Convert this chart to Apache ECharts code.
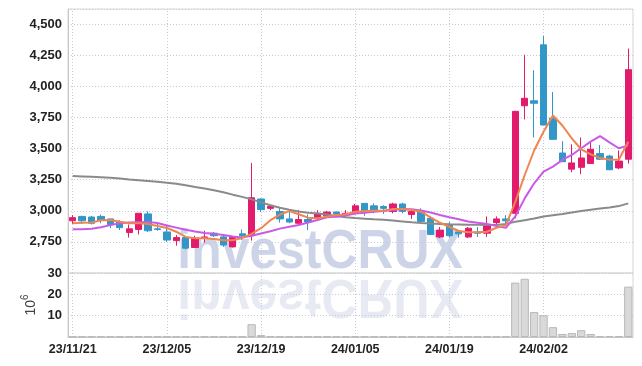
<!DOCTYPE html>
<html>
<head>
<meta charset="utf-8">
<script src="https://cdn.jsdelivr.net/npm/echarts@6/dist/echarts.min.js"></script>
<style>
html,body{margin:0;padding:0;background:#fff;}
#chart{width:642px;height:366px;}
</style>
</head>
<body>
<div id="chart"></div>
<script>
const dates = ['23/11/21','23/11/22','23/11/23','23/11/24','23/11/27','23/11/28','23/11/29','23/11/30','23/12/01','23/12/04',
'23/12/05','23/12/06','23/12/07','23/12/08','23/12/11','23/12/12','23/12/13','23/12/14','23/12/15','23/12/18',
'23/12/19','23/12/20','23/12/21','23/12/22','23/12/26','23/12/27','23/12/28','24/01/02','24/01/03','24/01/04',
'24/01/05','24/01/08','24/01/09','24/01/10','24/01/11','24/01/12','24/01/15','24/01/16','24/01/17','24/01/18',
'24/01/19','24/01/22','24/01/23','24/01/24','24/01/25','24/01/26','24/01/29','24/01/30','24/01/31','24/02/01',
'24/02/02','24/02/05','24/02/06','24/02/07','24/02/08','24/02/13','24/02/14','24/02/15','24/02/16','24/02/19'];

const tickLabels = ['23/11/21','23/12/05','23/12/19','24/01/05','24/01/19','24/02/02'];

const openV  = [2920,2955,2950,2955,2935,2910,2825,2850,2975,2855, 2830,2760,2785,2705,2785,2820,2790,2710,2815,2800,
                3095,3020,2995,2935,2900,2930,2940,2960,2990,2970, 2980,3060,3040,3035,2995,3055,2970,2995,2940,2790,
                2885,2830,2790,2830,2820,2905,2935,2980,3845,3885, 4335,3745,3465,3335,3350,3380,3460,3440,3345,3415];
const closeV = [2945,2920,2900,2925,2890,2865,2855,2980,2840,2850, 2765,2785,2700,2780,2790,2800,2725,2785,2800,3105,
                3010,3035,2935,2910,2930,2910,2980,2990,2975,2980, 3040,2990,3000,3020,3055,2995,2995,2915,2810,2845,
                2800,2815,2860,2820,2880,2935,2920,3800,3905,3865, 3690,3575,3395,3385,3425,3495,3415,3330,3400,4135];
const lowV   = [2895,2895,2890,2900,2860,2845,2785,2810,2830,2840, 2750,2720,2690,2700,2745,2790,2710,2705,2765,2760,
                2990,3005,2905,2900,2890,2845,2920,2950,2965,2945, 2970,2960,2980,2975,2980,2980,2935,2900,2805,2780,
                2785,2785,2780,2790,2790,2890,2885,2940,3735,3590, 3690,3575,3395,3310,3295,3380,3410,3330,3335,3380];
const highV  = [2965,2960,2960,2970,2935,2925,2890,2980,2995,2900, 2880,2805,2795,2800,2840,2830,2800,2790,2850,3385,
                3100,3045,3020,3005,3005,2970,3005,3000,2995,3005, 3055,3060,3060,3045,3065,3065,3010,3020,2960,2870,
                2910,2845,2870,2870,2955,2955,2965,3800,4255,4130, 4405,3955,3560,3535,3590,3550,3530,3450,3485,4305];

const ma5  = [2900,2904,2906,2924,2926,2912,2900,2900,2894,2878, 2862,2832,2790,2779,2779,2774,2764,2764,2782,2815,
              2860,2925,2970,2998,2972,2945,2940,2953,2966,2972, 2993,2998,3001,3001,3015,3015,3007,2993,2948,2904,
              2872,2838,2827,2827,2832,2864,2883,3071,3288,3485, 3636,3767,3686,3582,3495,3455,3424,3410,3413,3555];
const ma10 = [2851,2852,2856,2868,2885,2900,2906,2908,2910,2902, 2882,2865,2848,2833,2822,2816,2806,2794,2785,2800,
              2818,2836,2857,2872,2886,2906,2926,2948,2953,2962, 2978,2985,2993,2998,3006,3012,3012,3002,2986,2967,
              2949,2933,2914,2904,2895,2878,2863,2955,3100,3221, 3315,3355,3409,3449,3503,3556,3600,3551,3503,3526];
const ma60 = [3280,3277,3274,3270,3265,3259,3252,3246,3240,3233, 3226,3218,3205,3192,3180,3166,3150,3130,3112,3092,
              3068,3045,3025,3008,2995,2985,2978,2970,2958,2948, 2942,2937,2932,2928,2922,2915,2908,2902,2898,2895,
              2892,2890,2888,2888,2887,2887,2895,2912,2925,2938, 2955,2965,2975,2987,2998,3008,3018,3027,3038,3060];

const volume = [0.2,0.2,0.2,0.2,0.2,0.2,0.2,0.3,0.2,0.2, 0.2,0.2,0.2,0.2,0.2,0.2,0.2,0.2,0.2,6.0,
                0.9,0.3,0.2,0.2,0.2,0.2,0.2,0.2,0.2,0.2, 0.2,0.2,0.2,0.2,0.2,0.2,0.2,0.2,0.2,0.2,
                0.2,0.2,0.2,0.2,0.2,0.2,0.2,25.5,27.3,11.7, 10.2,4.6,1.4,1.85,3.2,1.4,0.45,0.45,0.45,23.6];

const candles = dates.map((d, i) => [openV[i], closeV[i], lowV[i], highV[i]]);

// pick a narrow font if one is installed
const mctx = document.createElement('canvas').getContext('2d');
function hasFont(f) {
  const s = '4,500 23/11/21 mwiMW';
  mctx.font = 'bold 20px monospace';
  const a = mctx.measureText(s).width;
  mctx.font = 'bold 20px "' + f + '", monospace';
  return mctx.measureText(s).width !== a;
}
let FONT, YSIZE, XSIZE;
if (hasFont('Liberation Sans Narrow')) { FONT = '"Liberation Sans Narrow"'; YSIZE = 15; XSIZE = 14; }
else if (hasFont('Arial Narrow')) { FONT = '"Arial Narrow"'; YSIZE = 15; XSIZE = 14; }
else { FONT = '"Liberation Sans", Arial, sans-serif'; YSIZE = 13; XSIZE = 12.5; }

const gridLine = { color: '#c6cbdc', type: [1, 2], width: 1 };
const vLines = {
  silent: true, z: 1, symbol: ['none', 'none'], label: { show: false },
  lineStyle: gridLine, emphasis: { disabled: true },
  data: tickLabels.map(d => ({ xAxis: d }))
};
const fmt = v => String(v).replace(/\B(?=(\d{3})+(?!\d))/g, ',');

const chart = echarts.init(document.getElementById('chart'), null, { renderer: 'canvas' });
chart.setOption({
  animation: false,
  backgroundColor: '#ffffff',
  grid: [
    { left: 68, right: 9, top: 9, height: 264, show: true, borderColor: '#d6d6d6', borderWidth: 1 },
    { left: 68, right: 9, top: 273, bottom: 29, show: true, borderColor: '#d6d6d6', borderWidth: 1 }
  ],
  graphic: [
    { type: 'text', x: 320, y: 253, z: -10, silent: true, scaleX: 0.89,
      style: { text: 'investCRUX', font: 'bold 56px "Liberation Sans", sans-serif', fill: 'rgba(145,160,202,0.45)', align: 'center', verticalAlign: 'middle' } },
    { type: 'text', x: 320, y: 295, z: -10, silent: true, scaleX: 0.89, scaleY: -1,
      style: { text: 'investCRUX', font: 'bold 56px "Liberation Sans", sans-serif', fill: 'rgba(145,160,202,0.22)', align: 'center', verticalAlign: 'middle' } }
  ],
  xAxis: [
    { type: 'category', gridIndex: 0, data: dates, boundaryGap: true,
      axisLine: { show: false }, axisTick: { show: false }, axisLabel: { show: false }, splitLine: { show: false } },
    { type: 'category', gridIndex: 1, data: dates, boundaryGap: true,
      axisLine: { show: true, lineStyle: { color: '#c8c8c8', width: 1 } }, axisTick: { show: false }, splitLine: { show: false },
      axisLabel: { interval: (idx, val) => tickLabels.includes(val), margin: 6, fontFamily: FONT, fontWeight: 'bold', fontSize: XSIZE, color: '#222' } }
  ],
  yAxis: [
    { type: 'value', gridIndex: 0, min: 2500, max: 4623, interval: 250,
      axisLine: { show: true, lineStyle: { color: '#c8c8c8', width: 1 } }, axisTick: { show: false },
      splitLine: { show: true, lineStyle: gridLine },
      axisLabel: { showMinLabel: false, margin: 6, padding: [5, 0, 0, 0], fontFamily: FONT, fontWeight: 'bold', fontSize: YSIZE, color: '#222',
        formatter: v => (v % 250 === 0 ? fmt(v) : '') } },
    { type: 'value', gridIndex: 1, min: 0, max: 30, interval: 10,
      axisLine: { show: true, lineStyle: { color: '#c8c8c8', width: 1 } }, axisTick: { show: false },
      splitLine: { show: true, lineStyle: gridLine },
      axisLabel: { showMinLabel: false, margin: 6, padding: [5, 0, 0, 0], fontFamily: FONT, fontWeight: 'bold', fontSize: YSIZE, color: '#222' },
      name: '{a|10}{b|6}', nameLocation: 'middle', nameRotate: 90, nameGap: 30, nameMoveOverlap: false,
      nameTextStyle: { rich: {
        a: { fontFamily: '"Liberation Sans", sans-serif', fontSize: 14, color: '#444', verticalAlign: 'bottom', lineHeight: 18 },
        b: { fontFamily: '"Liberation Sans", sans-serif', fontSize: 10, color: '#444', verticalAlign: 'top', lineHeight: 18 } } } }
  ],
  series: [
    { type: 'candlestick', xAxisIndex: 0, yAxisIndex: 0, data: candles, barWidth: '72%',
      itemStyle: { color: '#e31b6d', color0: '#3296c8', borderColor: '#e31b6d', borderColor0: '#3296c8', borderWidth: 1 },
      markLine: vLines },
    { type: 'line', name: 'MA60', xAxisIndex: 0, yAxisIndex: 0, data: ma60, symbol: 'none', lineStyle: { color: '#8a8a8a', width: 2 } },
    { type: 'line', name: 'MA10', xAxisIndex: 0, yAxisIndex: 0, data: ma10, symbol: 'none', lineStyle: { color: '#c95ae8', width: 2 } },
    { type: 'line', name: 'MA5', xAxisIndex: 0, yAxisIndex: 0, data: ma5, symbol: 'none', lineStyle: { color: '#ef8550', width: 2 } },
    { type: 'bar', xAxisIndex: 1, yAxisIndex: 1, data: volume, barCategoryGap: '12%',
      itemStyle: { color: '#d9d9d9', borderColor: '#b8b8b8', borderWidth: 1 },
      markLine: vLines }
  ]
});
</script>
</body>
</html>
